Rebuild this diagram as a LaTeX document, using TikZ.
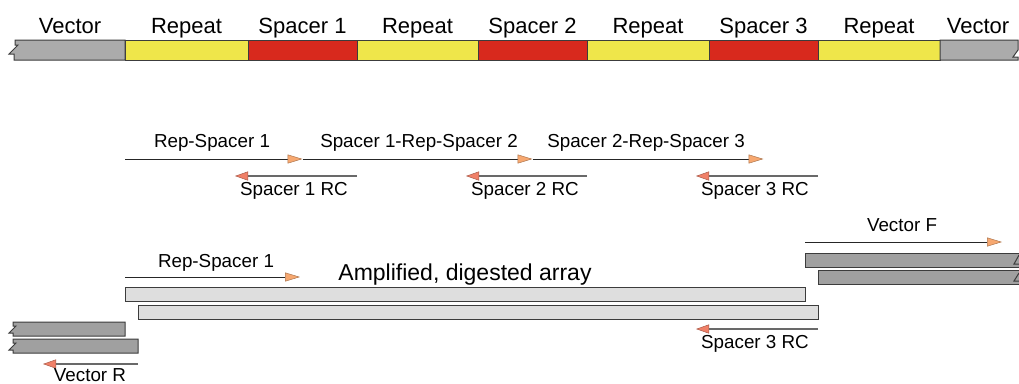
\documentclass[tikz,border=0pt]{standalone}
\usepackage{fontspec}
\setmainfont{Liberation Sans}
\usetikzlibrary{arrows.meta}

\definecolor{vecgray}{RGB}{171,171,171}
\definecolor{darkbar}{RGB}{160,160,160}
\definecolor{repyellow}{RGB}{239,230,74}
\definecolor{spred}{RGB}{216,41,29}
\definecolor{ampgray}{RGB}{222,222,222}
\definecolor{fwdtip}{RGB}{247,168,112}
\definecolor{revtip}{RGB}{240,128,104}
\definecolor{revline}{RGB}{105,105,105}
\definecolor{edgegray}{RGB}{60,60,60}

\tikzset{every picture/.style={line width=0.75pt}}

\begin{document}
\begin{tikzpicture}[x=1pt,y=1pt,yscale=-1,xscale=1,
  seg/.style={draw=edgegray, line width=1pt, minimum height=20, inner sep=0, outer sep=0, anchor=west},
  bar/.style={draw=edgegray, line width=1pt, minimum height=14, inner sep=0, outer sep=0, anchor=west},
  edge/.style={draw=edgegray, line width=1pt},
  toplabel/.style={anchor=base, inner sep=0, font=\fontsize{22}{26}\selectfont},
  midlabel/.style={anchor=base, inner sep=0, font=\fontsize{18.8}{22}\selectfont},
  fwd/.style={draw=black!85, line width=0.8pt, -{Triangle[length=15pt,width=9pt,fill=fwdtip,color=fwdtip!70!black,line width=0.5pt]}},
  rev/.style={draw=revline, line width=1.5pt, -{Triangle[length=13pt,width=9pt,fill=revtip,color=revtip!70!black,line width=0.5pt]}}]
\useasboundingbox (0,0) rectangle (1019,383);

%Top array
\node [seg, fill=repyellow, minimum width=123] (rep1) at (125,50) {};
\node [seg, fill=spred, minimum width=109] (sp1) at (248,50) {};
\node [seg, fill=repyellow, minimum width=121] (rep2) at (357,50) {};
\node [seg, fill=spred, minimum width=109] (sp2) at (478,50) {};
\node [seg, fill=repyellow, minimum width=122] (rep3) at (587,50) {};
\node [seg, fill=spred, minimum width=109] (sp3) at (709,50) {};
\node [seg, fill=repyellow, minimum width=122] (rep4) at (818,50) {};
%Vector ends
\draw [edge, fill=vecgray] (rep1.north west) -- (15,40) -- (15,45) -- (18,45) -- (9,54) -- (14,54) -- (14,60) -- (rep1.south west) -- cycle;
\draw [edge, fill=vecgray] (rep4.north east) -- (1018,40) -- (1018,50) -- (1013,57) -- (1018,57) -- (1018,60) -- (rep4.south east) -- cycle;

% Text Node
\node [toplabel] (lvec1) at (70,33) {Vector};
\node [toplabel] (lrep1) at (rep1 |- 0,33) {Repeat};
\node [toplabel] (lsp1) at (sp1 |- 0,33) {Spacer 1};
\node [toplabel] (lrep2) at (rep2 |- 0,33) {Repeat};
\node [toplabel] (lsp2) at (sp2 |- 0,33) {Spacer 2};
\node [toplabel] (lrep3) at (rep3 |- 0,33) {Repeat};
\node [toplabel] (lsp3) at (sp3 |- 0,33) {Spacer 3};
\node [toplabel] (lrep4) at (rep4 |- 0,33) {Repeat};
\node [toplabel] (lvec2) at (978,33) {Vector};

%Primers on the array
\coordinate (f0) at (125,159);
\coordinate (f1) at (sp1 |- 0,159);
\coordinate (f2) at (sp2 |- 0,159);
\coordinate (f3) at (sp3 |- 0,159);
\draw [fwd] (f0) -- (f1);
\draw [fwd] (f1) -- (f2);
\draw [fwd] (f2) -- (f3);
\coordinate (r1a) at (sp1.east |- 0,176);
\coordinate (r1b) at (235,176);
\coordinate (r2a) at (sp2.east |- 0,176);
\coordinate (r2b) at (466,176);
\coordinate (r3a) at (sp3.east |- 0,176);
\coordinate (r3b) at (696,176);
\draw [rev] (r1a) -- (r1b);
\draw [rev] (r2a) -- (r2b);
\draw [rev] (r3a) -- (r3b);

% Text Node
\node [midlabel] (lf1) at (212,147) {Rep-Spacer 1};
\node [midlabel] (lf2) at (419,147) {Spacer 1-Rep-Spacer 2};
\node [midlabel] (lf3) at (646,147) {Spacer 2-Rep-Spacer 3};
\node [midlabel] (lr1) at (294,195) {Spacer 1 RC};
\node [midlabel] (lr2) at (525,195) {Spacer 2 RC};
\node [midlabel] (lr3) at (755,195) {Spacer 3 RC};

%Amplified array
\node [bar, fill=ampgray, minimum width=680] (amp1) at (125,294.5) {};
\node [bar, fill=ampgray, minimum width=680] (amp2) at (138,312.5) {};
%Vector pieces
\node [bar, fill=darkbar, minimum width=214] (vecf1) at (805,260) {};
\node [bar, fill=darkbar, minimum width=201] (vecf2) at (818,277.5) {};
\draw [edge] (1019,255) -- (1014,264) -- (1019,264);
\draw [edge] (1019,273) -- (1014,281) -- (1019,281);
\draw [edge, fill=darkbar] (125,322) -- (13,322) -- (13,326) -- (16,326) -- (9,333) -- (13,333) -- (13,336) -- (125,336) -- cycle;
\draw [edge, fill=darkbar] (138,339) -- (13,339) -- (13,343) -- (16,343) -- (9,350) -- (13,350) -- (13,353) -- (138,353) -- cycle;

%Primers on the digested array
\coordinate (b0) at (amp1.west |- 0,277);
\coordinate (b1) at (300,277);
\draw [fwd] (b0) -- (b1);
\coordinate (vf0) at (vecf1.west |- 0,242);
\coordinate (vf1) at (1002,242);
\draw [fwd] (vf0) -- (vf1);
\coordinate (b3a) at (amp2.east |- 0,329);
\coordinate (b3b) at (696,329);
\draw [rev] (b3a) -- (b3b);
\coordinate (vra) at (amp2.west |- 0,364);
\coordinate (vrb) at (43,364);
\draw [rev] (vra) -- (vrb);

% Text Node
\node [midlabel] (lb1) at (216,267) {Rep-Spacer 1};
\node [toplabel, font=\fontsize{23}{27}\selectfont] (lamp) at (465,280) {Amplified, digested array};
\node [midlabel] (lvf) at (902,231) {Vector F};
\node [midlabel] (lb3) at (755,348) {Spacer 3 RC};
\node [midlabel] (lvr) at (90,381) {Vector R};

\end{tikzpicture}
\end{document}
